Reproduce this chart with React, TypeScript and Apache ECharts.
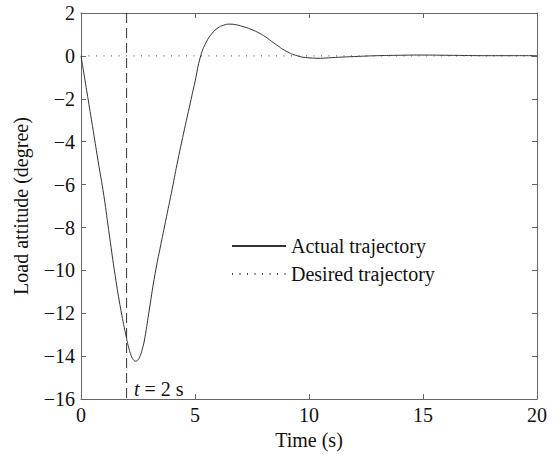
import React, { useEffect, useRef } from "react";
import * as echarts from "echarts";

const timeValues = [0, 0.25, 0.5, 0.75, 1.0, 1.25, 1.5, 1.75, 2.0, 2.1, 2.2, 2.3, 2.4, 2.5, 2.6, 2.7, 2.8, 3.0, 3.25, 3.5, 3.75, 4.0, 4.25, 4.5, 4.75, 5.0, 5.25, 5.5, 5.75, 6.0, 6.25, 6.5, 6.75, 7.0, 7.5, 8.0, 8.5, 9.0, 9.5, 10.0, 10.5, 11, 12, 13, 14, 15, 16, 18, 20];
const actualValues = [0, -1.62, -3.25, -4.9, -6.5, -8.4, -10.25, -11.85, -13.18, -13.63, -13.97, -14.17, -14.23, -14.17, -13.97, -13.63, -13.15, -11.8, -10.15, -8.8, -7.5, -6.2, -4.85, -3.6, -2.4, -1.2, 0, 0.65, 1.05, 1.3, 1.43, 1.48, 1.46, 1.4, 1.22, 0.95, 0.57, 0.22, 0.0, -0.09, -0.11, -0.08, -0.03, 0.01, 0.03, 0.04, 0.03, 0.01, 0.01];
const desiredTimes = [0, 20];
const desiredValues = [0, 0];
const markerTime = 2;
const yRange = [-16, 2];
const xRange = [0, 20];
const seriesNames = ["Actual trajectory", "Desired trajectory"];

const FONT = "Liberation Serif";
const FS = 20;
const AXIS_COLOR = "#666";
const LINE_COLOR = "#333";

export default function App() {
  const ref = useRef<HTMLDivElement>(null);
  useEffect(() => {
    if (!ref.current) return;
    const chart = echarts.init(ref.current, undefined, { renderer: "svg" });
    const minus = (v: number) => String(v).replace("-", "\u2212");
    const axisCommon = {
      axisLine: { show: true, onZero: false, lineStyle: { color: AXIS_COLOR, width: 1 } },
      axisTick: { show: true, inside: true, length: 5, lineStyle: { color: AXIS_COLOR } },
      splitLine: { show: false },
    };
    chart.setOption({
      animation: false,
      backgroundColor: "#fff",
      textStyle: { fontFamily: FONT },
      grid: { left: 81, right: 17, top: 13, bottom: 51, containLabel: false },
      legend: {
        data: seriesNames,
        orient: "vertical",
        left: 226,
        top: 231,
        itemWidth: 54,
        itemHeight: 12,
        itemGap: 8,
        itemStyle: { opacity: 0 },
        textStyle: { fontFamily: FONT, fontSize: FS, color: "#111" },
      },
      xAxis: [
        {
          type: "value",
          min: xRange[0],
          max: xRange[1],
          interval: 5,
          name: "Time (s)",
          nameLocation: "middle",
          nameGap: 24,
          nameTextStyle: { fontFamily: FONT, fontSize: FS, color: "#111" },
          axisLabel: { fontFamily: FONT, fontSize: FS, color: "#111", margin: 6 },
          ...axisCommon,
        },
        {
          type: "value",
          position: "top",
          min: xRange[0],
          max: xRange[1],
          interval: 5,
          axisLabel: { show: false },
          ...axisCommon,
        },
      ],
      yAxis: [
        {
          type: "value",
          min: yRange[0],
          max: yRange[1],
          interval: 2,
          name: "Load attitude (degree)",
          nameLocation: "middle",
          nameGap: 50,
          nameTextStyle: { fontFamily: FONT, fontSize: FS, color: "#111" },
          axisLabel: { fontFamily: FONT, fontSize: FS, color: "#111", margin: 6, formatter: minus },
          ...axisCommon,
        },
        {
          type: "value",
          position: "right",
          min: yRange[0],
          max: yRange[1],
          interval: 2,
          axisLabel: { show: false },
          ...axisCommon,
        },
      ],
      series: [
        {
          name: seriesNames[0],
          type: "line",
          data: timeValues.map((t, i) => [t, actualValues[i]]),
          smooth: true,
          symbol: "none",
          lineStyle: { color: LINE_COLOR, width: 1 },
          itemStyle: { color: LINE_COLOR },
          z: 3,
        },
        {
          name: seriesNames[1],
          type: "line",
          data: desiredTimes.map((t, i) => [t, desiredValues[i]]),
          symbol: "none",
          lineStyle: { color: "#444", width: 1, type: [1, 6.5] },
          itemStyle: { color: "#444" },
          z: 2,
        },
        {
          name: "marker",
          type: "line",
          data: [[markerTime, yRange[1]], [markerTime, yRange[0]]],
          symbol: "none",
          lineStyle: { color: "#333", width: 1, type: [10, 5] },
          silent: true,
          z: 2,
        },
      ],
      graphic: [
        {
          type: "text",
          left: 134,
          top: 379,
          style: {
            text: "{i|t}{n| = 2 s}",
            rich: {
              i: { fontFamily: FONT, fontStyle: "italic", fontSize: FS, fill: "#111" },
              n: { fontFamily: FONT, fontSize: FS, fill: "#111" },
            },
            fontFamily: FONT,
            fontSize: FS,
            fill: "#111",
          },
        },
      ],
    });
    return () => chart.dispose();
  }, []);
  return (
    <div
      ref={ref}
      style={{ position: "fixed", left: 0, top: 0, width: 554, height: 455, background: "#fff" }}
    />
  );
}
